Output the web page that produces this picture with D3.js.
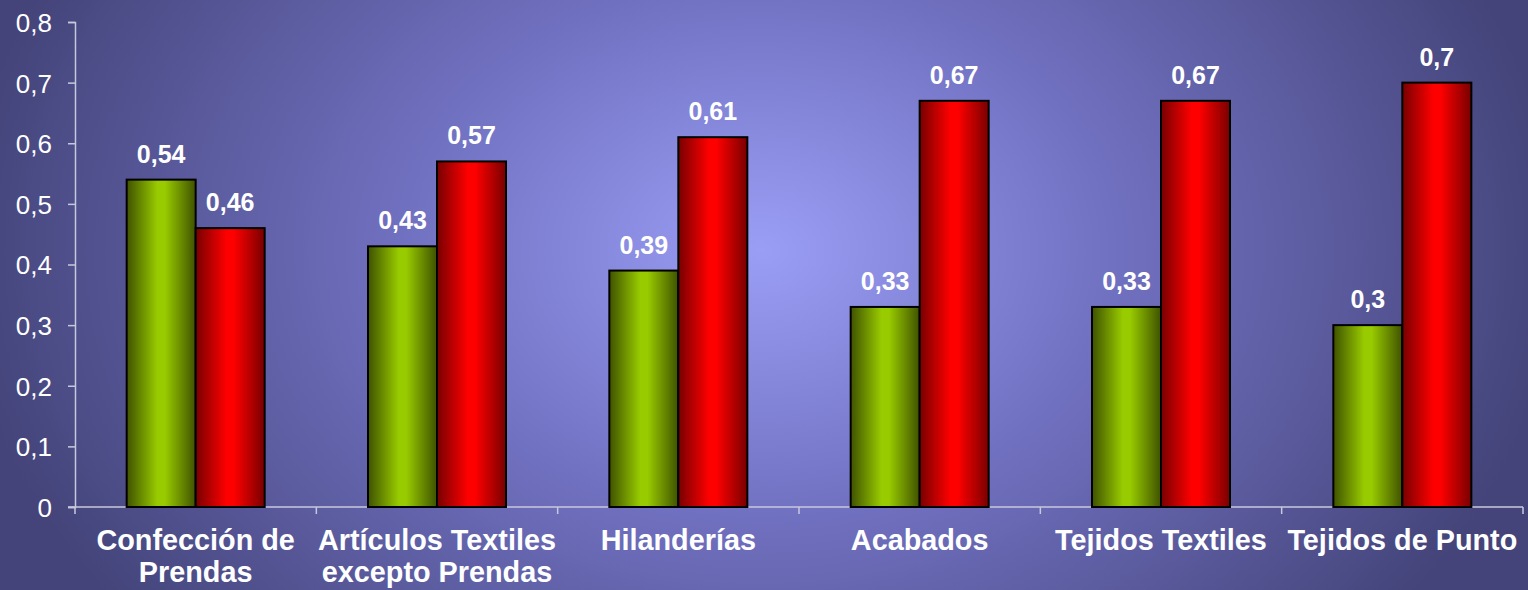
<!DOCTYPE html>
<html><head><meta charset="utf-8">
<script src="https://cdn.jsdelivr.net/npm/d3@7"></script>
<style>html,body{margin:0;padding:0;overflow:hidden;background:#4a4a80}</style>
</head><body>
<script>
const categories = [["Confección de","Prendas"],["Artículos Textiles","excepto Prendas"],["Hilanderías"],["Acabados"],["Tejidos Textiles"],["Tejidos de Punto"]];
const seriesA = [0.54,0.43,0.39,0.33,0.33,0.3];
const seriesB = [0.46,0.57,0.61,0.67,0.67,0.7];
const labelsA = ["0,54","0,43","0,39","0,33","0,33","0,3"];
const labelsB = ["0,46","0,57","0,61","0,67","0,67","0,7"];
const yTicks = [0,0.1,0.2,0.3,0.4,0.5,0.6,0.7,0.8];

const W=1528,H=590;
const FONT="Arial, 'Liberation Sans', sans-serif";
const svg=d3.select("body").append("svg").attr("width",W).attr("height",H);
const defs=svg.append("defs");
const bg=defs.append("radialGradient").attr("id","bg").attr("gradientUnits","userSpaceOnUse")
  .attr("cx",760).attr("cy",250).attr("r",800).attr("gradientTransform","translate(760,250) scale(1,0.75) translate(-760,-250)");
bg.append("stop").attr("offset","0").attr("stop-color","#9a9ef5");
bg.append("stop").attr("offset","0.45").attr("stop-color","#7070c0");
bg.append("stop").attr("offset","1").attr("stop-color","#44447a");
svg.append("rect").attr("width",W).attr("height",H).attr("fill","url(#bg)");

function barGrad(id,dark,bright){
  const g=defs.append("linearGradient").attr("id",id).attr("x1","0").attr("x2","1").attr("y1","0").attr("y2","0");
  g.append("stop").attr("offset","0").attr("stop-color",dark);
  g.append("stop").attr("offset","0.45").attr("stop-color",bright);
  g.append("stop").attr("offset","0.55").attr("stop-color",bright);
  g.append("stop").attr("offset","1").attr("stop-color",dark);
}
barGrad("gG","#3f5200","#99cc00");
barGrad("gR","#780000","#ff0000");

const x0=75,x1=1523,yTop=22,yBot=507;
const x=d3.scaleBand().domain(d3.range(categories.length)).range([x0,x1]).paddingInner(0).paddingOuter(0);
const y=d3.scaleLinear().domain([0,0.8]).range([yBot,yTop]);
const bw=69;

const axisColor="#c8c8dc";
const yAxis=svg.append("g").attr("transform",`translate(${x0},0)`)
  .call(d3.axisLeft(y).tickValues(yTicks).tickSize(7).tickPadding(10).tickFormat(d=>d3.format(".1~f")(d).replace(".",",")));
yAxis.select(".domain").attr("stroke",axisColor).attr("stroke-width",1.5);
yAxis.selectAll(".tick line").attr("stroke",axisColor).attr("stroke-width",1.5);
yAxis.selectAll("text").attr("fill","#fff").attr("font-family",FONT).attr("font-size",26).attr("font-weight","normal")
  .attr("x",-23).attr("text-anchor","end").attr("dy","0.36em");

const xa=svg.append("g");
xa.append("line").attr("x1",x0-7).attr("x2",x1).attr("y1",yBot).attr("y2",yBot).attr("stroke",axisColor).attr("stroke-width",1.5);
const bounds=d3.range(categories.length+1).map(i=> i<categories.length? x(i): x1);
xa.selectAll(".xt").data(bounds).enter().append("line").attr("x1",d=>d).attr("x2",d=>d).attr("y1",yBot).attr("y2",yBot+7).attr("stroke",axisColor).attr("stroke-width",1.5);

const g=svg.append("g");
categories.forEach((c,i)=>{
  const cx=x(i)+x.bandwidth()/2;
  const vals=[[seriesA[i],labelsA[i],"url(#gG)",cx-bw],[seriesB[i],labelsB[i],"url(#gR)",cx]];
  vals.forEach(([v,l,f,bx])=>{
    g.append("rect").attr("x",bx).attr("y",y(v)).attr("width",bw).attr("height",yBot-y(v))
      .attr("fill",f).attr("stroke","#000").attr("stroke-width",2);
    g.append("text").attr("x",bx+bw/2).attr("y",y(v)-17).attr("text-anchor","middle").attr("fill","#fff")
      .attr("font-family",FONT).attr("font-size",25).attr("font-weight","bold").text(l);
  });
  const t=g.append("text").attr("text-anchor","middle").attr("fill","#fff")
    .attr("font-family",FONT).attr("font-size",28.8).attr("font-weight","bold");
  c.forEach((line,k)=>t.append("tspan").attr("x",cx).attr("y",550+k*32).text(line));
});
</script>
</body></html>
